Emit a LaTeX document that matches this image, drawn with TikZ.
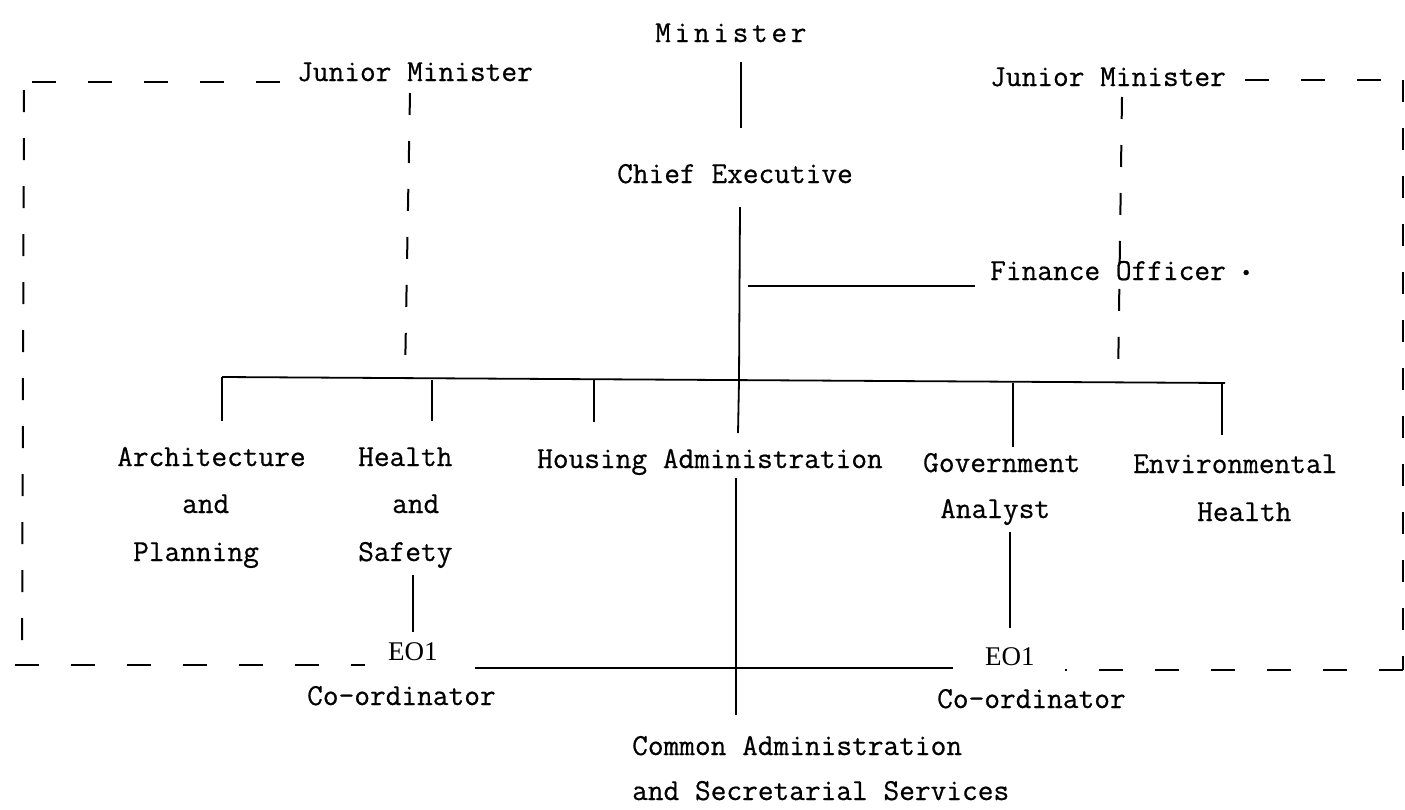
\documentclass[tikz,border=0pt]{standalone}
\usepackage{fontspec}
\setmonofont{Latin Modern Mono}[FakeBold=0.6]
\newfontfamily\spacedtt{Latin Modern Mono}[LetterSpace=12,FakeBold=0.6]
\newfontfamily\eofont{Liberation Serif}
\begin{document}
\begin{tikzpicture}[x=1pt,y=-1pt,
  lbl/.style={font=\ttfamily\fontsize{30.5}{34}\selectfont, inner sep=0pt, anchor=base west},
  eolbl/.style={font=\eofont\fontsize{27}{30}\selectfont, inner sep=0pt, anchor=base west},
  ln/.style={line width=1.8pt},
  dashh/.style={line width=2pt, dash pattern=on 24pt off 32pt},
  dashv/.style={line width=2pt, dash pattern=on 22pt off 26pt}]
\useasboundingbox (0,0) rectangle (1405,809);

% ---- titles
\node[lbl, font=\spacedtt\fontsize{30.5}{34}\selectfont] (min) at (655,42) {Minister};
\node[lbl] (jml) at (297,81) {Junior Minister};
\node[lbl] (jmr) at (990,86) {Junior Minister};
\node[lbl] (ce) at (617,183) {Chief Executive};
\node[lbl] (fo) at (990,280) {Finance Officer\kern9pt\raisebox{-6pt}{\fontsize{44}{44}\selectfont\textperiodcentered}};

% ---- sections
\node[lbl] (arch1) at (117,466) {Architecture};
\node[lbl] (arch2) at (182,513) {and};
\node[lbl] (arch3) at (133,561) {Planning};
\node[lbl] (hs1) at (358,466) {Health};
\node[lbl] (hs2) at (392,513) {and};
\node[lbl] (hs3) at (358,561) {Safety};
\node[lbl] (ha) at (537,468) {Housing Administration};
\node[lbl] (ga1) at (923,472) {Government};
\node[lbl] (ga2) at (940,518) {Analyst};
\node[lbl] (eh1) at (1133,473) {Environmental};
\node[lbl] (eh2) at (1197,521) {Health};

% ---- coordinators and common services
\node[eolbl] (eol) at (388,660) {EO1};
\node[lbl] (col) at (307,705) {Co-ordinator};
\node[eolbl] (eor) at (985,665) {EO1};
\node[lbl] (cor) at (937,708) {Co-ordinator};
\node[lbl] (cas1) at (632,755) {Common Administration};
\node[lbl] (cas2) at (632,800) {and Secretarial Services};

% ---- junction points
\coordinate (busL) at (222,377);
\coordinate (busR) at (1225,383);
\coordinate (bJL) at (405,377);
\coordinate (bHS) at (432,380);
\coordinate (bHA) at (594,380);
\coordinate (bCE) at (739,381);
\coordinate (bJR) at (1118,383);
\coordinate (bGA) at (1013,383);
\coordinate (bEH) at (1222,383);
\coordinate (eoX) at (736,668);

% ---- solid lines
\draw[ln] (741,62) -- (741,128);
\draw[ln] (740,207) -- (bCE) -- (738,433);
\draw[ln] (748,286) -- (975,286);
\draw[ln] (busL) -- (busR);
\draw[ln] (busL) -- (222,421);
\draw[ln] (bHS) -- (432,421);
\draw[ln] (bHA) -- (594,422);
\draw[ln] (bGA) -- (1013,447);
\draw[ln] (bEH) -- (1222,435);
\draw[ln] (413,575) -- (413,632);
\draw[ln] (1010,532) -- (1010,628);
\draw[ln] (475,668) -- (eoX) -- (953,668);
\draw[ln] (736,478) -- (eoX) -- (736,715);

% ---- dashed lines from the junior ministers
\draw[dashv] (410,93) -- (bJL);
\draw[dashv] (1122,97) -- (bJR);
\draw[dashh] (280,82) -- (25,82);
\draw[dashv] (24,90) -- (22,665);
\draw[dashh] (15,665) -- (365,665);
\draw[dashh] (1245,80) -- (1403,80);
\draw[dashv] (1403,80) -- (1403,670);
\draw[dashh] (1403,670) -- (1065,670);
\end{tikzpicture}
\end{document}
